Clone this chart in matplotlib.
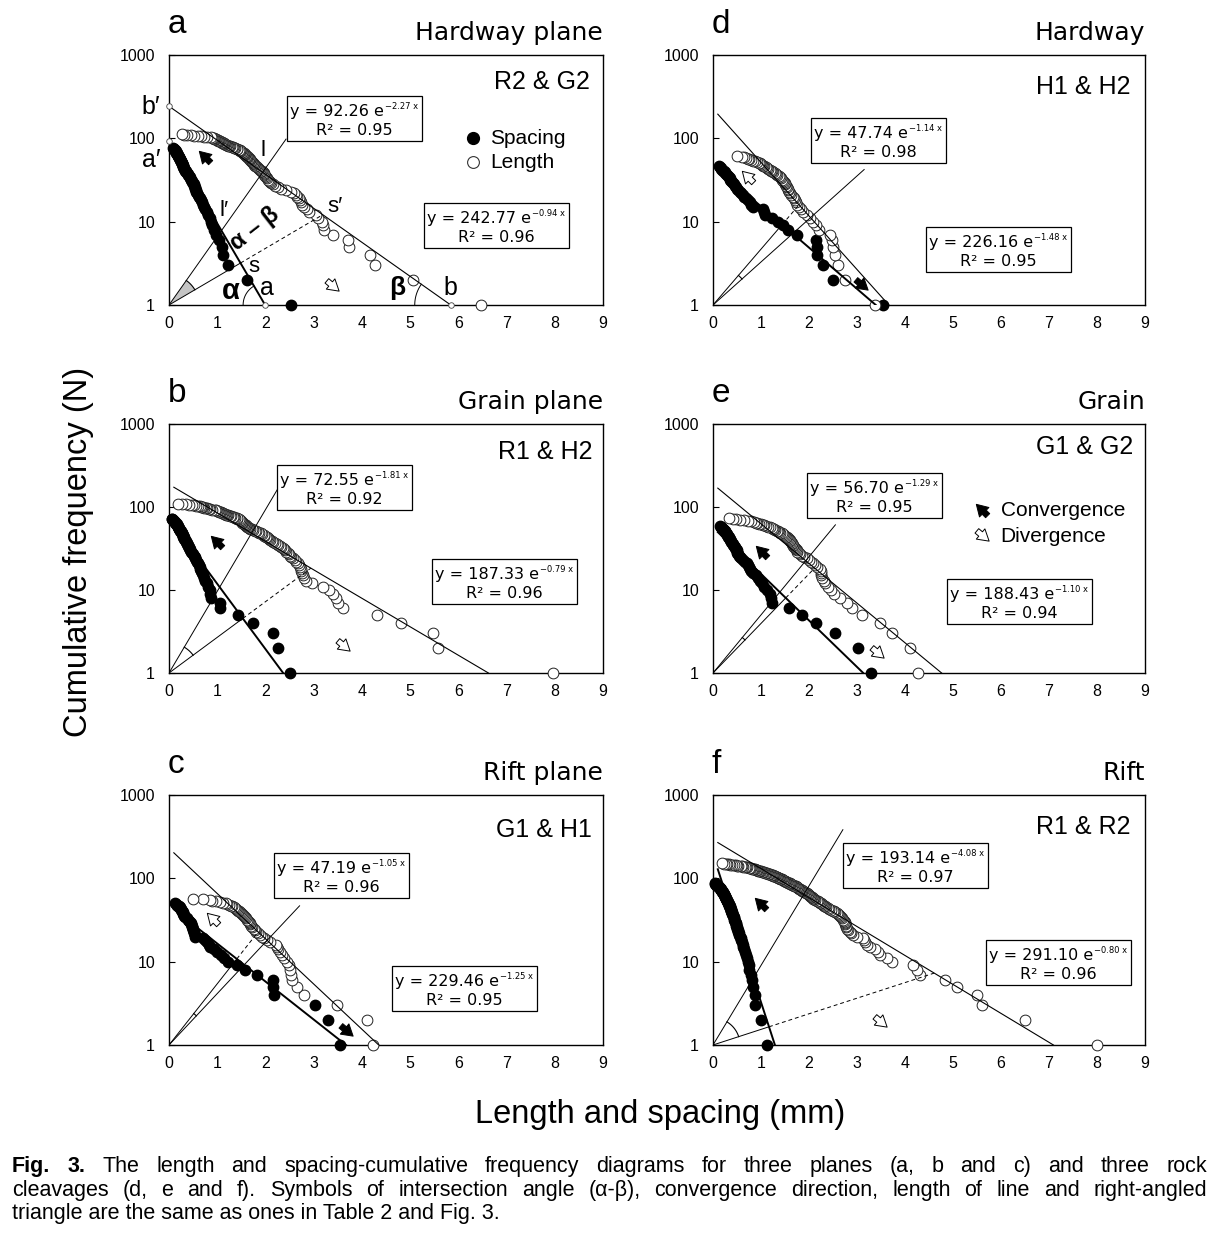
import numpy as np
import matplotlib
matplotlib.use('Agg')
import matplotlib.pyplot as plt
from matplotlib.patches import Rectangle, FancyArrowPatch
from matplotlib.lines import Line2D

# x values (mm), listed for N = 1, 2, 3 ... (cumulative count)
spacing_a = [2.54, 1.61, 1.23, 1.13, 1.09, 1.03, 0.98, 0.94, 0.90, 0.87,
             0.84, 0.81, 0.78, 0.75, 0.73, 0.70, 0.68, 0.66, 0.64, 0.62,
             0.60, 0.58, 0.57, 0.56, 0.545, 0.53, 0.52, 0.51, 0.50, 0.485,
             0.47, 0.45, 0.44, 0.43, 0.415, 0.40, 0.385, 0.37, 0.36, 0.35,
             0.34, 0.33, 0.32, 0.31, 0.30, 0.295, 0.29, 0.28, 0.27, 0.265,
             0.26, 0.25, 0.245, 0.24, 0.23, 0.225, 0.22, 0.21, 0.205, 0.20,
             0.19, 0.185, 0.18, 0.17, 0.165, 0.16, 0.155, 0.15, 0.14, 0.135,
             0.13, 0.12, 0.115, 0.11, 0.10, 0.09]
length_a = [6.48, 5.07, 4.27, 4.17, 3.73, 3.72, 3.41, 3.21, 3.19, 3.17,
            3.10, 3.05, 2.90, 2.86, 2.80, 2.75, 2.73, 2.71, 2.69, 2.66,
            2.63, 2.60, 2.52, 2.42, 2.33, 2.25, 2.19, 2.15, 2.12, 2.10,
            2.08, 2.06, 2.04, 2.02, 2.00, 1.98, 1.97, 1.96, 1.95, 1.93,
            1.91, 1.89, 1.87, 1.85, 1.83, 1.81, 1.79, 1.77, 1.76, 1.75,
            1.74, 1.73, 1.71, 1.70, 1.69, 1.68, 1.66, 1.65, 1.64, 1.62,
            1.61, 1.60, 1.58, 1.57, 1.56, 1.55, 1.53, 1.52, 1.51, 1.50, 1.48, 1.47,
            1.45, 1.42, 1.40, 1.37, 1.35, 1.32, 1.30, 1.27, 1.25, 1.22, 1.20,
            1.18, 1.17, 1.15, 1.14, 1.12, 1.10, 1.09, 1.07, 1.06, 1.04,
            1.02, 1.01, 0.99, 0.98, 0.96, 0.94, 0.93, 0.91, 0.90, 0.88,
            0.78, 0.72, 0.66, 0.60, 0.52, 0.45, 0.38, 0.32, 0.26]

spacing_b = [2.51, 2.27, 2.16, 1.75, 1.44, 1.06, 1.05, 0.88, 0.86, 0.84,
             0.81, 0.78, 0.75, 0.72, 0.70, 0.68, 0.67, 0.65, 0.64, 0.62,
             0.60, 0.58, 0.56, 0.54, 0.53, 0.51, 0.50, 0.48, 0.46, 0.44,
             0.43, 0.42, 0.41, 0.40, 0.39, 0.38, 0.37, 0.36, 0.35, 0.33,
             0.32, 0.315, 0.31, 0.30, 0.29, 0.28, 0.275, 0.27, 0.26, 0.25,
             0.24, 0.23, 0.22, 0.215, 0.21, 0.20, 0.19, 0.185, 0.18, 0.17,
             0.165, 0.16, 0.15, 0.14, 0.13, 0.12, 0.11, 0.10, 0.09, 0.08, 0.07, 0.06]
length_b = [7.97, 5.58, 5.48, 4.82, 4.32, 3.61, 3.50, 3.47, 3.41, 3.31,
            3.20, 2.96, 2.84, 2.80, 2.77, 2.75, 2.74, 2.73, 2.71, 2.69,
            2.67, 2.64, 2.61, 2.58, 2.54, 2.51, 2.48, 2.46, 2.43, 2.40,
            2.38, 2.36, 2.33, 2.30, 2.27, 2.24, 2.20, 2.16, 2.13, 2.10,
            2.08, 2.06, 2.03, 2.01, 1.98, 1.96, 1.93, 1.90, 1.87, 1.84,
            1.81, 1.78, 1.75, 1.72, 1.68, 1.66, 1.64, 1.62, 1.60, 1.59,
            1.57, 1.56, 1.55, 1.54, 1.52, 1.51, 1.50, 1.49, 1.48, 1.47,
            1.45, 1.42, 1.40, 1.37, 1.34, 1.32, 1.29, 1.26, 1.23, 1.20,
            1.18, 1.16, 1.14, 1.12, 1.10, 1.08, 1.06, 1.04, 1.02, 1.00,
            0.98, 0.95, 0.90, 0.85, 0.82, 0.79, 0.76, 0.73, 0.71, 0.69,
            0.67, 0.64, 0.61, 0.57, 0.52, 0.47, 0.42, 0.35, 0.27, 0.19]

spacing_c = [3.55, 3.30, 3.03, 2.17, 2.16, 2.15, 1.82, 1.58, 1.40, 1.23,
             1.15, 1.08, 1.00, 0.93, 0.86, 0.82, 0.78, 0.75, 0.71, 0.54,
             0.53, 0.52, 0.51, 0.50, 0.49, 0.48, 0.47, 0.46, 0.45, 0.44,
             0.42, 0.40, 0.37, 0.34, 0.32, 0.31, 0.30, 0.29, 0.28, 0.27,
             0.26, 0.25, 0.24, 0.23, 0.22, 0.20, 0.18, 0.16, 0.14, 0.12]
length_c = [4.24, 4.10, 3.48, 2.79, 2.65, 2.55, 2.52, 2.50, 2.48, 2.44,
            2.39, 2.34, 2.30, 2.27, 2.24, 2.22, 2.10, 2.03, 1.97, 1.92,
            1.89, 1.85, 1.81, 1.78, 1.76, 1.73, 1.71, 1.69, 1.67, 1.65,
            1.63, 1.61, 1.60, 1.58, 1.56, 1.54, 1.52, 1.50, 1.48, 1.46,
            1.44, 1.41, 1.39, 1.36, 1.34, 1.31, 1.28, 1.25, 1.21, 1.18,
            1.12, 1.06, 0.98, 0.90, 0.85, 0.70, 0.50]

spacing_d = [3.55, 2.51, 2.30, 2.17, 2.16, 2.15, 1.74, 1.57, 1.45, 1.35,
             1.22, 1.08, 1.06, 1.04, 0.84, 0.80, 0.77, 0.72, 0.68, 0.65,
             0.62, 0.58, 0.56, 0.53, 0.50, 0.48, 0.46, 0.44, 0.42, 0.40,
             0.38, 0.36, 0.35, 0.33, 0.31, 0.29, 0.27, 0.25, 0.24, 0.22,
             0.20, 0.19, 0.17, 0.16, 0.15, 0.13]
length_d = [3.38, 2.76, 2.60, 2.54, 2.51, 2.47, 2.44, 2.20, 2.14, 2.08,
            2.03, 1.95, 1.88, 1.83, 1.79, 1.75, 1.72, 1.70, 1.68, 1.66,
            1.63, 1.61, 1.59, 1.57, 1.56, 1.54, 1.53, 1.51, 1.49, 1.47,
            1.46, 1.44, 1.42, 1.40, 1.37, 1.34, 1.31, 1.29, 1.26, 1.23,
            1.21, 1.18, 1.15, 1.12, 1.10, 1.07, 1.05, 1.02, 1.00, 0.98,
            0.95, 0.91, 0.87, 0.83, 0.80, 0.76, 0.72, 0.68, 0.64, 0.60, 0.50]

spacing_e = [3.29, 3.03, 2.54, 2.15, 1.85, 1.59, 1.23, 1.21, 1.19, 1.12,
             1.07, 1.03, 0.98, 0.94, 0.89, 0.84, 0.80, 0.77, 0.74, 0.72,
             0.70, 0.66, 0.62, 0.59, 0.56, 0.55, 0.53, 0.51, 0.50, 0.49,
             0.47, 0.46, 0.45, 0.43, 0.42, 0.41, 0.40, 0.38, 0.37, 0.36,
             0.35, 0.34, 0.33, 0.32, 0.31, 0.30, 0.29, 0.28, 0.27, 0.26,
             0.25, 0.24, 0.23, 0.21, 0.20, 0.19, 0.17, 0.16, 0.14]
length_e = [4.28, 4.10, 3.72, 3.48, 3.10, 2.90, 2.80, 2.65, 2.52, 2.45,
            2.40, 2.34, 2.31, 2.28, 2.26, 2.25, 2.24, 2.22, 2.17, 2.12,
            2.08, 2.05, 2.00, 1.95, 1.89, 1.85, 1.82, 1.79, 1.76, 1.74,
            1.72, 1.71, 1.69, 1.67, 1.66, 1.65, 1.64, 1.62, 1.61, 1.60,
            1.58, 1.56, 1.54, 1.52, 1.50, 1.48, 1.45, 1.43, 1.40, 1.37,
            1.35, 1.33, 1.30, 1.28, 1.26, 1.23, 1.19, 1.15, 1.11, 1.07,
            1.04, 1.00, 0.96, 0.92, 0.89, 0.86, 0.80, 0.72, 0.64, 0.56,
            0.48, 0.41, 0.34]

spacing_f = [1.12, 1.01, 0.88, 0.87, 0.84, 0.81, 0.79, 0.76, 0.74, 0.72,
             0.71, 0.69, 0.67, 0.65, 0.63, 0.62, 0.61, 0.59, 0.58, 0.56,
             0.55, 0.54, 0.53, 0.52, 0.51, 0.49, 0.485, 0.48, 0.47, 0.46,
             0.45, 0.445, 0.44, 0.43, 0.42, 0.41, 0.405, 0.40, 0.39, 0.385,
             0.38, 0.37, 0.365, 0.36, 0.35, 0.345, 0.34, 0.335, 0.33, 0.32,
             0.315, 0.31, 0.30, 0.295, 0.29, 0.28, 0.275, 0.27, 0.26, 0.25,
             0.245, 0.24, 0.23, 0.225, 0.22, 0.21, 0.205, 0.20, 0.19, 0.185,
             0.18, 0.17, 0.165, 0.16, 0.15, 0.145, 0.14, 0.13, 0.125, 0.11,
             0.10, 0.09, 0.08, 0.07, 0.06, 0.05, 0.04]
length_f = [7.99, 6.50, 5.60, 5.49, 5.08, 4.83, 4.31, 4.24, 4.17, 3.72,
            3.62, 3.48, 3.43, 3.38, 3.27, 3.20, 3.16, 3.14, 3.13, 3.00,
            2.92, 2.88, 2.85, 2.82, 2.80, 2.78, 2.77, 2.76, 2.75, 2.74,
            2.73, 2.71, 2.69, 2.66, 2.64, 2.62, 2.60, 2.58, 2.55, 2.52,
            2.49, 2.45, 2.42, 2.39, 2.36, 2.33, 2.31, 2.29, 2.27, 2.25,
            2.23, 2.21, 2.19, 2.16, 2.13, 2.11, 2.09, 2.08, 2.06, 2.05,
            2.03, 2.02, 2.00, 1.98, 1.97, 1.95, 1.93, 1.91, 1.90, 1.88,
            1.86, 1.85, 1.83, 1.81, 1.80, 1.78, 1.77, 1.75, 1.74, 1.72,
            1.70, 1.68, 1.67, 1.65, 1.63, 1.61, 1.60, 1.58, 1.56, 1.55,
            1.53, 1.51, 1.50, 1.48, 1.46, 1.45, 1.43, 1.41, 1.40, 1.38,
            1.37, 1.35, 1.34, 1.33, 1.31, 1.29, 1.27, 1.26, 1.24, 1.22,
            1.20, 1.19, 1.17, 1.15, 1.12, 1.10, 1.08, 1.06, 1.04, 1.02,
            1.00, 0.98, 0.96, 0.94, 0.92, 0.91, 0.89, 0.87, 0.85, 0.83,
            0.81, 0.79, 0.77, 0.74, 0.70, 0.68, 0.66, 0.63, 0.61, 0.58,
            0.53, 0.50, 0.47, 0.43, 0.39, 0.36, 0.33, 0.30, 0.27, 0.23, 0.18]

spacing = [spacing_a, spacing_b, spacing_c, spacing_d, spacing_e, spacing_f]
length = [length_a, length_b, length_c, length_d, length_e, length_f]

letters = ['a', 'b', 'c', 'd', 'e', 'f']
planes = ['Hardway plane', 'Grain plane', 'Rift plane', 'Hardway', 'Grain', 'Rift']
pairs = ['R2 & G2', 'R1 & H2', 'G1 & H1', 'H1 & H2', 'G1 & G2', 'R1 & R2']

# exponential fits y = A e^(-k x)
sp_A = [92.26, 72.55, 47.19, 47.74, 56.70, 193.14]
sp_k = [2.27, 1.81, 1.05, 1.14, 1.29, 4.08]
sp_r2 = [0.95, 0.92, 0.96, 0.98, 0.95, 0.97]
len_A = [242.77, 187.33, 229.46, 226.16, 188.43, 291.10]
len_k = [0.94, 0.79, 1.25, 1.48, 1.10, 0.80]
len_r2 = [0.96, 0.96, 0.95, 0.95, 0.94, 0.96]

# ---- layout (pixels of the 1222 x 1236 picture)
W, H = 1222, 1236
ax_left = [169, 169, 169, 713, 713, 713]
ax_top = [55, 424, 795, 55, 424, 795]
ax_w = [434, 434, 434, 432, 432, 432]
ax_h = [250, 249, 250, 250, 249, 250]
fit_x0 = [0.0, 0.1, 0.1, 0.1, 0.1, 0.1]
ray_ext = [1.25, 1.47, 1.33, 1.55, 1.32, 1.43]
arc_r = [30, 30, 40, 39, 46, 27]
sp_box = [(287, 96), (277, 465), (274, 853), (811, 118), (807, 473), (843, 843)]
len_box = [(424, 203), (432, 559), (392, 966), (926, 227), (947, 579), (986, 940)]
pair_pos = [(590, 82), (592, 452), (592, 830), (1130, 87), (1133, 447), (1130, 827)]
# (x, y, filled, angle)
arrows = [[(205, 157, True, 135), (333, 286, False, -40)],
          [(217, 542, True, 135), (344, 646, False, -40)],
          [(213, 919, False, 135), (347, 1031, True, -40)],
          [(748, 177, False, 135), (862, 285, True, -40)],
          [(762, 552, True, 135), (878, 653, False, -40)],
          [(761, 904, True, 135), (881, 1022, False, -40)]]

plt.rcParams['font.family'] = ['Liberation Sans', 'DejaVu Sans']
fig = plt.figure(figsize=(W / 100, H / 100), dpi=100)
fig.patch.set_facecolor('white')
renderer = fig.canvas.get_renderer()


def fx(x):
    return x / W


def fy(y):
    return 1 - y / H


def ftext(x, y, s, **kw):
    return fig.text(fx(x), fy(y), s, **kw)


def arrow(cx, cy, filled, ang):
    a = np.radians(ang)
    dx, dy = 8 * np.cos(a), -8 * np.sin(a)
    p = FancyArrowPatch((fx(cx - dx), fy(cy - dy)), (fx(cx + dx), fy(cy + dy)),
                        transform=fig.transFigure,
                        arrowstyle='simple,head_length=0.5,head_width=0.6,tail_width=0.26',
                        mutation_scale=16, shrinkA=0, shrinkB=0,
                        fc='k' if filled else 'white', ec='k', lw=0.7, zorder=6)
    fig.add_artist(p)


def eq_box(x, y, A, k, r2):
    t1 = ftext(x + 3, y + 20, 'y = %.2f e' % A, fontsize=11.5, va='baseline', zorder=4,
               family='DejaVu Sans')
    w1 = t1.get_window_extent(renderer).width
    t2 = ftext(x + 3 + w1 + 1, y + 6, '\u2212%.2f x' % k, fontsize=6, va='top', zorder=4,
               family='DejaVu Sans')
    w2 = t2.get_window_extent(renderer).width
    bw = w1 + w2 + 8
    rect = Rectangle((fx(x), fy(y + 45)), bw / W, 45 / H, transform=fig.transFigure,
                     fc='white', ec='k', lw=0.9, zorder=3)
    fig.add_artist(rect)
    ftext(x + bw / 2, y + 39, 'R\u00b2 = %.2f' % r2, fontsize=11.5, ha='center',
          va='baseline', zorder=4, family='DejaVu Sans')


def arc_pts(c, r, t1, t2):
    th = np.linspace(t1, t2, 40)
    return np.column_stack([c[0] + r * np.cos(th), c[1] + r * np.sin(th)])


for i in range(6):
    ax = fig.add_axes([fx(ax_left[i]), fy(ax_top[i] + ax_h[i]), ax_w[i] / W, ax_h[i] / H])
    ax.set_yscale('log')
    ax.set_xlim(0, 9)
    ax.set_ylim(1, 1000)
    ax.set_xticks(range(10))
    ax.set_yticks([1, 10, 100, 1000])
    ax.set_yticklabels(['1', '10', '100', '1000'])
    ax.yaxis.set_minor_locator(matplotlib.ticker.NullLocator())
    ax.tick_params(axis='y', direction='in', length=4, width=0.8, pad=10, labelsize=11.5)
    ax.tick_params(axis='x', length=0, pad=8, labelsize=11.5)
    for sp in ax.spines.values():
        sp.set_linewidth(1.0)

    xs_ = np.array(spacing[i])
    xl_ = np.array(length[i])
    ax.scatter(xs_, np.arange(1, len(xs_) + 1), s=56, c='k', zorder=3, clip_on=False)
    ax.scatter(xl_, np.arange(1, len(xl_) + 1), s=60, facecolors='white',
               edgecolors='#222222', linewidths=0.7, zorder=4, clip_on=False)

    # fitted lines down to N = 1
    xs_end = np.log(sp_A[i]) / sp_k[i]
    xl_end = np.log(len_A[i]) / len_k[i]
    xx = np.linspace(fit_x0[i], xs_end, 60)
    ax.plot(xx, sp_A[i] * np.exp(-sp_k[i] * xx), color='k', lw=1.4, zorder=5)
    xx = np.linspace(fit_x0[i], xl_end, 60)
    ax.plot(xx, len_A[i] * np.exp(-len_k[i] * xx), color='k', lw=0.8, zorder=5)

    # perpendiculars from the origin, worked out on screen
    T = ax.transData
    inv = T.inverted()
    O = T.transform((0, 1))
    L0, L1 = T.transform((0, len_A[i])), T.transform((xl_end, 1))
    S0, S1 = T.transform((0, sp_A[i])), T.transform((xs_end, 1))
    dl = (L1 - L0) / np.hypot(*(L1 - L0))
    ds = (S1 - S0) / np.hypot(*(S1 - S0))
    foot_l = L0 + np.dot(O - L0, dl) * dl
    foot_s = S0 + np.dot(O - S0, ds) * ds
    u = foot_s - O
    t, s = np.linalg.solve(np.column_stack([u, -dl]), L0 - O)
    s_prime = O + t * u
    ray_end = O + ray_ext[i] * (foot_l - O)

    seg = inv.transform(np.array([O, ray_end]))
    ax.plot(seg[:, 0], seg[:, 1], color='k', lw=0.7, zorder=5)
    seg = inv.transform(np.array([O, foot_s]))
    ax.plot(seg[:, 0], seg[:, 1], color='k', lw=0.7, zorder=5)
    seg = inv.transform(np.array([foot_s, s_prime]))
    ax.plot(seg[:, 0], seg[:, 1], color='k', lw=0.7, ls=(0, (4, 3)), zorder=5)

    th1 = np.arctan2(*(ray_end - O)[::-1])
    th2 = np.arctan2(*(foot_s - O)[::-1])
    pts = arc_pts(O, arc_r[i], th2, th1)
    if i == 0:
        poly = inv.transform(np.vstack([O, pts, O]))
        ax.fill(poly[:, 0], poly[:, 1], color='#c4c4c4', zorder=4.5, lw=0)
    arc = inv.transform(pts)
    ax.plot(arc[:, 0], arc[:, 1], color='k', lw=0.8, zorder=5)

    if i == 0:
        # angle marks at a and b, end points on the axes
        for c, far, r in [(S1, S0, 22), (L1, L0, 36)]:
            ang = np.arctan2(*(far - c)[::-1])
            arc = inv.transform(arc_pts(c, r, np.pi, ang))
            ax.plot(arc[:, 0], arc[:, 1], color='k', lw=0.7, zorder=5)
        ax.plot([0, 0, xs_end, xl_end], [len_A[i], sp_A[i], 1, 1], 'o', ms=4,
                mfc='white', mec='#444444', mew=0.6, clip_on=False, zorder=6)

    # titles
    top = ax_top[i]
    ftext(ax_left[i] - 1, top - 22, letters[i], fontsize=24, va='baseline')
    ftext(ax_left[i] + ax_w[i], top - 15, planes[i], fontsize=18, ha='right',
          va='baseline', family='DejaVu Sans')
    px, py = pair_pos[i]
    ftext(px, py, pairs[i], fontsize=18, ha='right', va='center')

    eq_box(sp_box[i][0], sp_box[i][1], sp_A[i], sp_k[i], sp_r2[i])
    eq_box(len_box[i][0], len_box[i][1], len_A[i], len_k[i], len_r2[i])
    for a in arrows[i]:
        arrow(*a)

# panel a labels
for x, y, s, kw in [(151, 107, 'b\u2032', dict(fontsize=18)),
                    (151, 160, 'a\u2032', dict(fontsize=18)),
                    (263, 150, 'l', dict(fontsize=16)),
                    (224, 211, 'l\u2032', dict(fontsize=16)),
                    (255, 229, '\u03b1 \u2013 \u03b2', dict(fontsize=17, rotation=38, fontweight='bold')),
                    (335, 206, 's\u2032', dict(fontsize=16)),
                    (254, 266, 's', dict(fontsize=16)),
                    (231, 291, '\u03b1', dict(fontsize=21, fontweight='bold')),
                    (267, 288, 'a', dict(fontsize=18)),
                    (397, 288, '\u03b2', dict(fontsize=19, fontweight='bold')),
                    (450, 288, 'b', dict(fontsize=18))]:
    ftext(x, y, s, ha='center', va='center', **kw)

# legends
fig.add_artist(Line2D([fx(473)], [fy(138)], marker='o', ms=8.5, mfc='k', mec='k',
                      ls='', transform=fig.transFigure))
fig.add_artist(Line2D([fx(473)], [fy(162)], marker='o', ms=8.5, mfc='white', mec='#333333',
                      mew=0.8, ls='', transform=fig.transFigure))
ftext(490, 138, 'Spacing', fontsize=15, va='center')
ftext(490, 162, 'Length', fontsize=15, va='center')
arrow(982, 510, True, 135)
arrow(983, 536, False, -40)
ftext(1001, 510, 'Convergence', fontsize=15, va='center')
ftext(1000, 536, 'Divergence', fontsize=15, va='center')

# axis labels
ftext(79, 552, 'Cumulative frequency (N)', fontsize=23.5, rotation=90, ha='center', va='center')
ftext(660, 1115, 'Length and spacing (mm)', fontsize=23.5, ha='center', va='center')

# caption, first two lines justified
cap1 = [('Fig.', True), ('3.', True)] + [(w, False) for w in
        'The length and spacing-cumulative frequency diagrams for three planes (a, b and c) and three rock'.split()]
cap2 = [(w, False) for w in
        'cleavages (d, e and f). Symbols of intersection angle (\u03b1-\u03b2), convergence direction, length of line and right-angled'.split()]
for words, y in [(cap1, 1172), (cap2, 1196)]:
    texts = [ftext(0, y, w, fontsize=15.5, va='baseline', fontweight='bold' if b else 'normal')
             for w, b in words]
    widths = [t.get_window_extent(renderer).width for t in texts]
    gap = (1207 - 12 - sum(widths)) / (len(texts) - 1)
    x = 12
    for t, wd in zip(texts, widths):
        t.set_x(fx(x))
        x += wd + gap
ftext(12, 1219, 'triangle are the same as ones in Table 2 and Fig. 3.', fontsize=15.5, va='baseline')

fig.savefig('out.png', dpi=100, facecolor='white')
